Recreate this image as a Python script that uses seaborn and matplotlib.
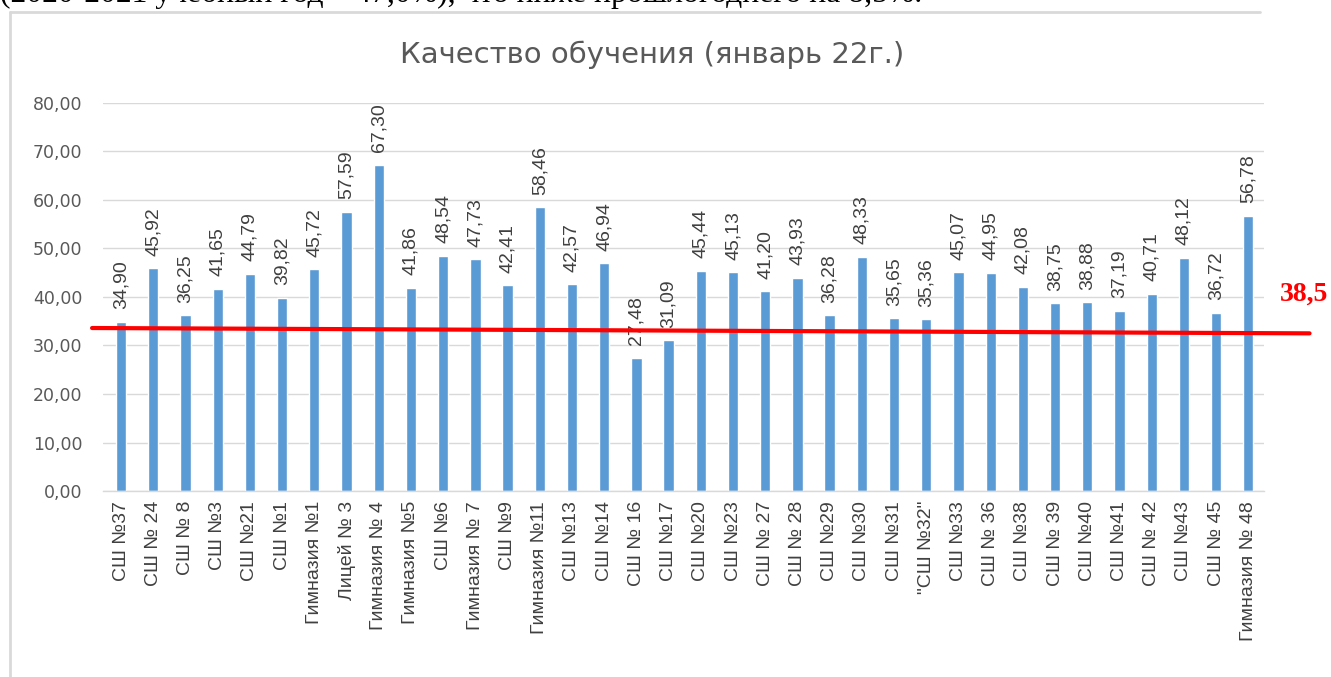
import matplotlib
matplotlib.use("Agg")
import matplotlib.pyplot as plt
import seaborn as sns
import pandas as pd
from matplotlib.lines import Line2D

schools = ["СШ №37", "СШ № 24", "СШ № 8", "СШ №3", "СШ №21", "СШ №1", "Гимназия №1",
           "Лицей № 3", "Гимназия № 4", "Гимназия №5", "СШ №6", "Гимназия № 7", "СШ №9",
           "Гимназия №11", "СШ №13", "СШ №14", "СШ № 16", "СШ №17", "СШ №20", "СШ №23",
           "СШ № 27", "СШ № 28", "СШ №29", "СШ №30", "СШ №31", "\"СШ №32\"", "СШ №33",
           "СШ № 36", "СШ №38", "СШ № 39", "СШ №40", "СШ №41", "СШ № 42", "СШ №43",
           "СШ № 45", "Гимназия № 48"]
quality = [34.90, 45.92, 36.25, 41.65, 44.79, 39.82, 45.72, 57.59, 67.30, 41.86, 48.54,
           47.73, 42.41, 58.46, 42.57, 46.94, 27.48, 31.09, 45.44, 45.13, 41.20, 43.93,
           36.28, 48.33, 35.65, 35.36, 45.07, 44.95, 42.08, 38.75, 38.88, 37.19, 40.71,
           48.12, 36.72, 56.78]
yticks = [0, 10, 20, 30, 40, 50, 60, 70, 80]
title = "Качество обучения (январь 22г.)"
marker_label = "38,5"
marker_line = [33.6, 32.5]   # hand-drawn red line, left and right heights
top_text = "(2020-2021 учебный год – 47,0%), что ниже прошлогоднего на 8,5%."

df = pd.DataFrame({"school": schools, "value": quality})

sns.set_theme(style="white")
plt.rcParams["font.family"] = ["DejaVu Sans"]
narrow = ["Liberation Sans Narrow", "Liberation Sans", "DejaVu Sans"]

fig = plt.figure(figsize=(13.31, 6.77), dpi=100)
ax = fig.add_axes([0.0774, 0.2747, 0.8726, 0.5733])

sns.barplot(data=df, x="school", y="value", color="#5B9BD5", saturation=1,
            width=0.32, ax=ax)

ax.set_ylim(0, 80)
ax.set_xlim(-0.56, len(schools) - 0.5)
ax.set_yticks(yticks)
ax.set_yticklabels([f"{v:.2f}".replace(".", ",") for v in yticks],
                   fontsize=12.5, color="#595959")
ax.set_xticks(range(len(schools)))
ax.set_xticklabels(schools, rotation=90, fontsize=14, color="#404040", family=narrow)
ax.tick_params(axis="y", length=0, pad=15)
ax.tick_params(axis="x", length=0, pad=7)
ax.set_xlabel("")
ax.set_ylabel("")
ax.yaxis.grid(True, color="#D9D9D9", linewidth=1)
ax.set_axisbelow(True)
for s in ["top", "right", "left"]:
    ax.spines[s].set_visible(False)
ax.spines["bottom"].set_color("#D9D9D9")
ax.spines["bottom"].set_linewidth(1)

for i, v in enumerate(quality):
    ax.annotate(f"{v:.2f}".replace(".", ","), (i, v), xytext=(0, 9),
                textcoords="offset points", rotation=90, ha="center", va="bottom",
                fontsize=14, color="#404040", family=narrow)

fig.text(0.49, 0.919, title, ha="center", va="center", fontsize=21, color="#595959")

# red hand-drawn line
ax.plot([-0.9, 36.9], marker_line, color="#FF0000", linewidth=3,
        clip_on=False, zorder=5)
fig.text(0.9977, 0.566, marker_label, ha="right", va="center", fontsize=20,
         fontweight="bold", color="#FF0000", family=["Liberation Serif", "DejaVu Serif"])

# chart frame (left and top borders)
fig.add_artist(Line2D([0.0075, 0.0075], [0.0, 0.982], color="#D9D9D9", linewidth=2,
                      transform=fig.transFigure))
fig.add_artist(Line2D([0.0075, 0.947], [0.982, 0.982], color="#D9D9D9", linewidth=2,
                      transform=fig.transFigure))

# document text cut by the top edge
fig.text(0.0, 0.9965, top_text, ha="left", va="baseline", fontsize=22.8,
         color="#000000", family=["Liberation Serif", "DejaVu Serif"])

fig.savefig("out.png", dpi=100)
